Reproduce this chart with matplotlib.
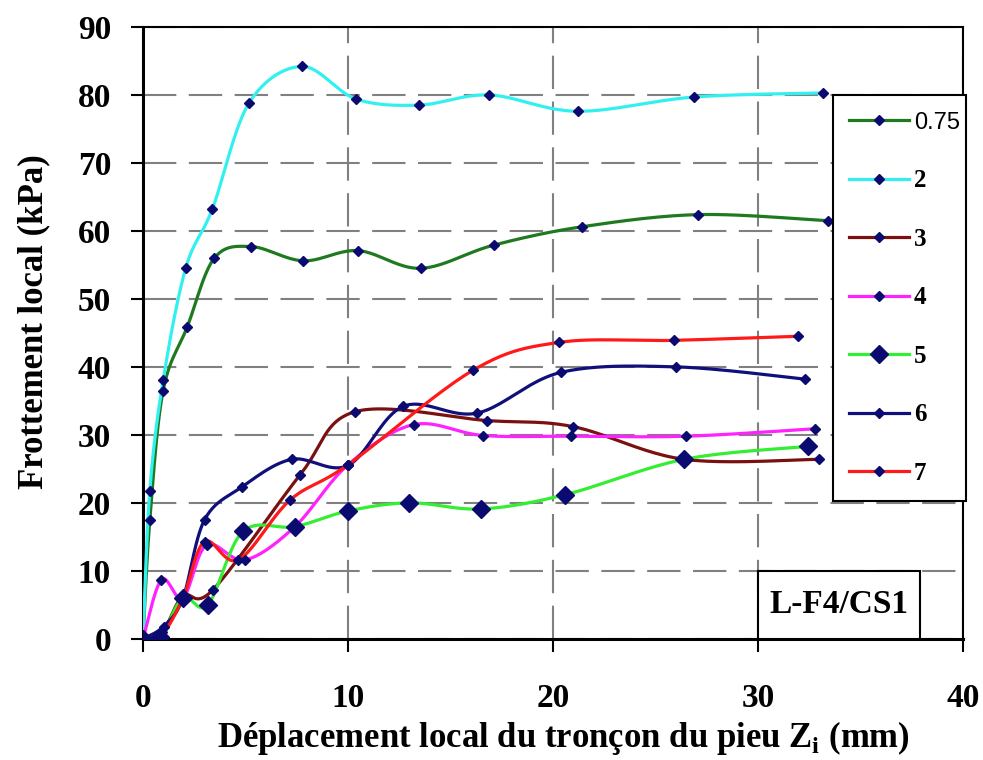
import numpy as np
import matplotlib
matplotlib.use('Agg')
import matplotlib.pyplot as plt
from matplotlib.lines import Line2D

plt.rcParams['font.family'] = ['Liberation Serif', 'DejaVu Serif']
plt.rcParams['font.weight'] = 'bold'
plt.rcParams['mathtext.fontset'] = 'custom'
plt.rcParams['mathtext.rm'] = 'Liberation Sans'

# series (x: mm, y: kPa)
labels = ['0.75', '2', '3', '4', '5', '6', '7']

x_075 = [0, 0.33, 0.98, 2.16, 3.48, 5.28, 7.82, 10.49, 13.55, 17.1, 21.4, 27.1, 33.4]
y_075 = [0, 17.4, 36.5, 45.9, 56.0, 57.7, 55.6, 57.1, 54.5, 57.9, 60.6, 62.4, 61.5]

x_2 = [0, 0.33, 0.98, 2.08, 3.38, 5.17, 7.74, 10.39, 13.45, 16.9, 21.2, 26.9, 33.2]
y_2 = [0, 21.8, 38.0, 54.5, 63.2, 78.8, 84.2, 79.4, 78.5, 80.0, 77.6, 79.7, 80.3]

x_3 = [0, 0.95, 1.95, 3.41, 7.66, 10.34, 16.8, 21.0, 26.4, 33.0]
y_3 = [0, 1.0, 6.3, 7.2, 24.1, 33.4, 32.1, 31.2, 26.4, 26.4]

x_4 = [0, 0.9, 1.95, 3.1, 4.98, 7.41, 10.0, 13.2, 16.6, 20.9, 26.5, 32.8]
y_4 = [0, 8.7, 6.0, 13.8, 11.6, 16.5, 25.6, 31.5, 29.9, 29.8, 29.8, 30.9]

x_5 = [0, 0.85, 1.95, 3.17, 4.88, 7.41, 10.0, 13.0, 16.5, 20.6, 26.4, 32.45]
y_5 = [0, 0.3, 6.0, 5.0, 15.8, 16.5, 18.8, 20.0, 19.1, 21.2, 26.4, 28.3]

x_6 = [0, 1.0, 1.95, 3.0, 4.81, 7.25, 10.0, 12.7, 16.3, 20.4, 26.0, 32.3]
y_6 = [0, 1.8, 6.0, 17.5, 22.3, 26.4, 25.5, 34.2, 33.2, 39.2, 40.0, 38.2]

x_7 = [0, 0.9, 1.95, 3.0, 4.65, 7.17, 10.0, 16.1, 20.3, 25.9, 31.97]
y_7 = [0, 0.5, 6.0, 14.3, 11.6, 20.4, 25.6, 39.5, 43.6, 43.9, 44.5]

xs = [x_075, x_2, x_3, x_4, x_5, x_6, x_7]
ys = [y_075, y_2, y_3, y_4, y_5, y_6, y_7]
colors = ['#1f7a1f', '#33f0f0', '#7a1010', '#ff22ff', '#33ee33', '#10107a', '#ff1a1a']
msizes = [5.5, 5.5, 5.5, 5.5, 9, 5.5, 5.5]
MARK = '#0a0a70'


def smooth(x, y, n=24):
    # catmull-rom through the points, like excel's smoothed lines
    p = np.column_stack([x, y]).astype(float)
    p = np.vstack([p[0], p, p[-1]])
    t = np.linspace(0, 1, n, endpoint=False)[:, None]
    out = []
    for i in range(1, len(p) - 2):
        p0, p1, p2, p3 = p[i - 1], p[i], p[i + 1], p[i + 2]
        seg = 0.5 * (2 * p1 + (-p0 + p2) * t
                     + (2 * p0 - 5 * p1 + 4 * p2 - p3) * t ** 2
                     + (-p0 + 3 * p1 - 3 * p2 + p3) * t ** 3)
        out.append(seg)
    out.append(p[-2][None])
    out = np.vstack(out)
    return out[:, 0], out[:, 1]


fig = plt.figure(figsize=(9.83, 7.6), dpi=100)
ax = fig.add_axes([0.1455, 0.1595, 0.834, 0.805])

handles = []
for x, y, col, ms, lab in zip(xs, ys, colors, msizes, labels):
    sx, sy = smooth(x, y)
    ax.plot(sx, sy, color=col, lw=2.3, zorder=3)
    ax.plot(x, y, ls='none', marker='D', ms=ms, color=MARK, zorder=4)
    handles.append(Line2D([], [], color=col, lw=2.3, marker='D', ms=ms,
                          markerfacecolor=MARK, markeredgecolor=MARK, label=lab))

ax.set_xlim(0, 40)
ax.set_ylim(0, 90)
ax.set_xticks(np.arange(0, 41, 10))
ax.set_yticks(np.arange(0, 91, 10))
ax.grid(True, color='#808080', linestyle=(0, (16, 6)), linewidth=1.5)
ax.tick_params(labelsize=24, width=1.5, length=9)
ax.tick_params(axis='x', pad=23)
ax.tick_params(axis='y', pad=14)
for s in ['left', 'bottom']:
    ax.spines[s].set_linewidth(2.2)
for s in ['top', 'right']:
    ax.spines[s].set_linewidth(1.5)

ax.set_xlabel(r'Déplacement local du tronçon du pieu Z$_\mathregular{i}$ (mm)',
              fontsize=25, fontweight='bold')
ax.set_ylabel('Frottement local (kPa)', fontsize=25, fontweight='bold')
ax.xaxis.set_label_coords(0.513, -0.131)
ax.yaxis.set_label_coords(-0.113, 0.518)

# site label box
ax.add_patch(plt.Rectangle((30, 0), 7.9, 10, facecolor='white', edgecolor='black',
                           lw=1.5, zorder=5))
ax.text(33.95, 5, 'L-F4/CS1', ha='center', va='center', fontsize=24,
        fontweight='bold', zorder=6)

leg = fig.legend(handles=handles, loc='upper left',
                 bbox_to_anchor=(0.847, 0.875, 0.136, 0.0), mode='expand',
                 fontsize=18, labelspacing=1.42, handlelength=2.4,
                 handletextpad=0.2, borderpad=0.65, fancybox=False,
                 framealpha=1, edgecolor='black', borderaxespad=0)
leg.get_frame().set_linewidth(1.5)
first = leg.get_texts()[0]
first.set_family('Liberation Sans')
first.set_fontweight('normal')
first.set_fontsize(17)

fig.savefig('out.png', dpi=100)
